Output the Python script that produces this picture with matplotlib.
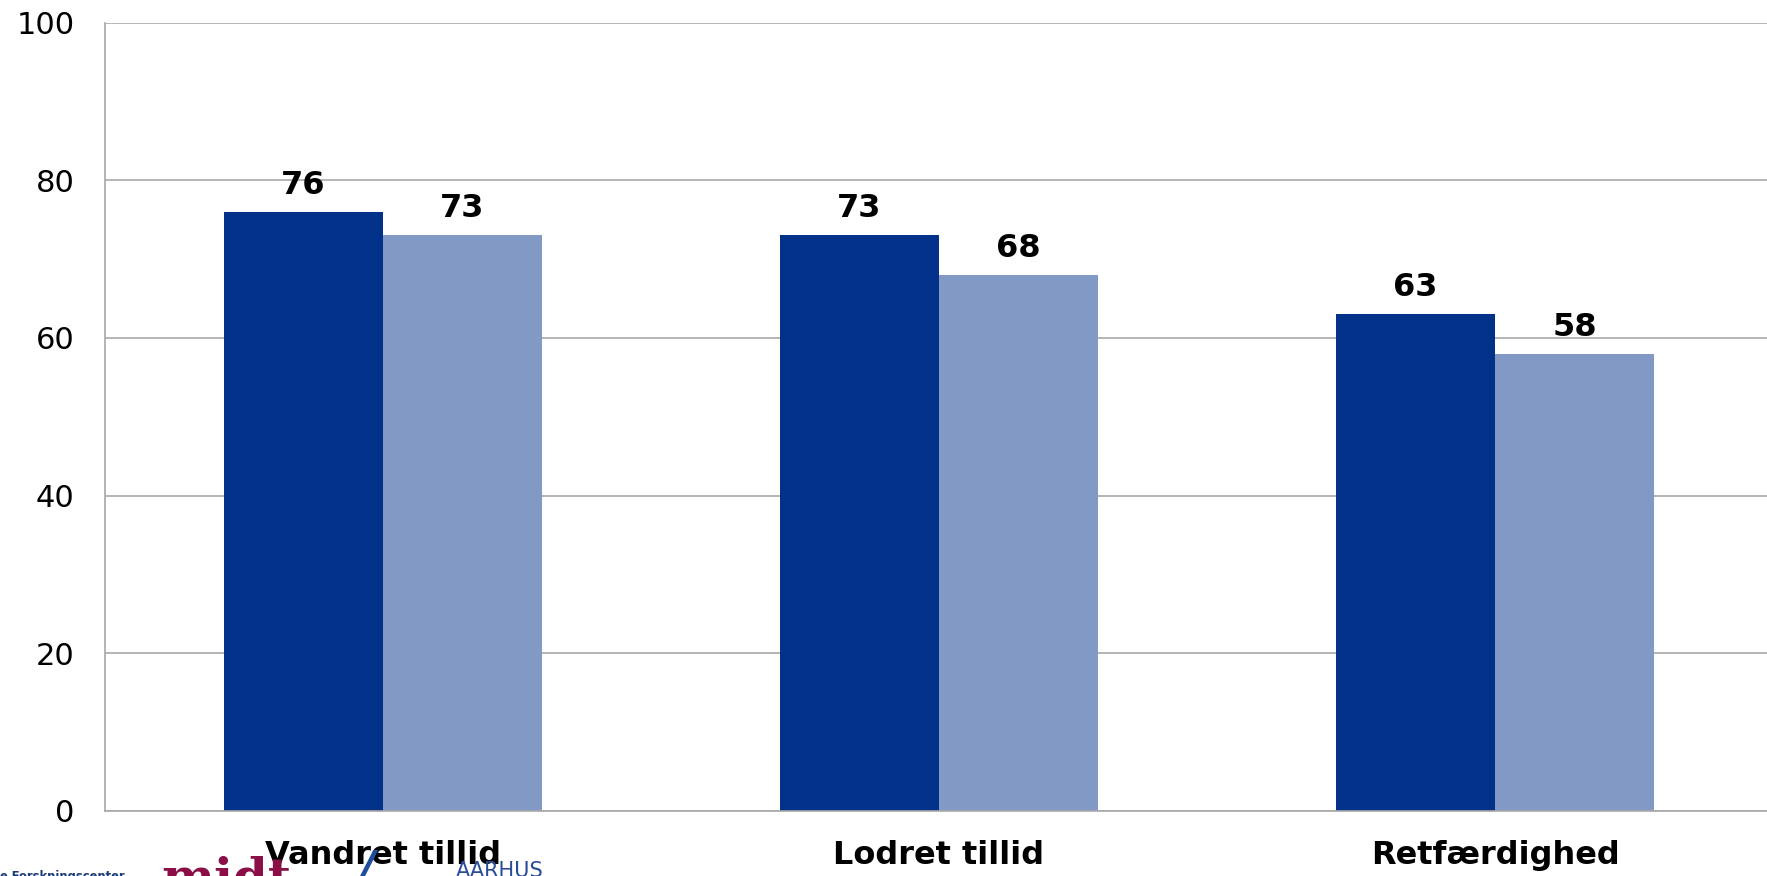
import numpy as np
import matplotlib
matplotlib.use('Agg')
import matplotlib.pyplot as plt

# data
categories = ["Vandret tillid", "Lodret tillid", "Retfærdighed"]
series_a = [76, 73, 63]
series_b = [73, 68, 58]
yticks = [0, 20, 40, 60, 80, 100]

DARK = "#02318A"
LIGHT = "#8399C5"
GRID = "#A8A8A8"

W, H = 1767, 876
fig = plt.figure(figsize=(W / 100, H / 100), dpi=100)
ax = fig.add_axes([105 / W, 65 / H, 1668 / W, 788.5 / H])

x = np.arange(len(categories))
bw = 0.286
bars_a = ax.bar(x - bw / 2, series_a, width=bw, color=DARK, zorder=2)
bars_b = ax.bar(x + bw / 2, series_b, width=bw, color=LIGHT, zorder=2)

for bars, vals in ((bars_a, series_a), (bars_b, series_b)):
    for b, v in zip(bars, vals):
        ax.annotate(str(v), (b.get_x() + b.get_width() / 2, v),
                    xytext=(0, 13), textcoords="offset points",
                    ha="center", va="baseline",
                    fontsize=23, fontweight="bold", color="black")

ax.set_xlim(-0.5, 2.5)
ax.set_ylim(0, 100)
ax.set_yticks(yticks)
ax.set_yticklabels([str(t) for t in yticks], fontsize=22)
ax.set_xticks(x)
ax.set_xticklabels(categories, fontsize=23, fontweight="bold")
ax.tick_params(axis="y", length=0, pad=22)
ax.tick_params(axis="x", length=0, pad=21)

ax.set_axisbelow(True)
ax.grid(axis="y", color=GRID, linewidth=1.2)
for side in ("top", "right"):
    ax.spines[side].set_visible(False)
for side in ("left", "bottom"):
    ax.spines[side].set_color(GRID)
    ax.spines[side].set_linewidth(1.2)

# partial logo strip at the bottom edge (cut off by the figure edge)
fig.text(0, -4 / H, "e Forskningscenter", fontsize=8.3, fontweight="bold",
         color="#1B3A7A", va="baseline", ha="left")
fig.text(161 / W, -17 / H, "midt", family="DejaVu Serif", fontsize=36,
         fontweight="bold", color="#8B0F46", va="baseline", ha="left", zorder=0)
fig.text(358 / W, -6 / H, "/", fontsize=32, fontweight="heavy", style="italic",
         color="#1F4E9C", va="baseline", ha="left", zorder=0)
fig.text(456 / W, -1 / H, "AARHUS", fontsize=15, color="#2B4C9B",
         va="baseline", ha="left", zorder=0)

fig.savefig("out.png", dpi=100)
plt.close(fig)
